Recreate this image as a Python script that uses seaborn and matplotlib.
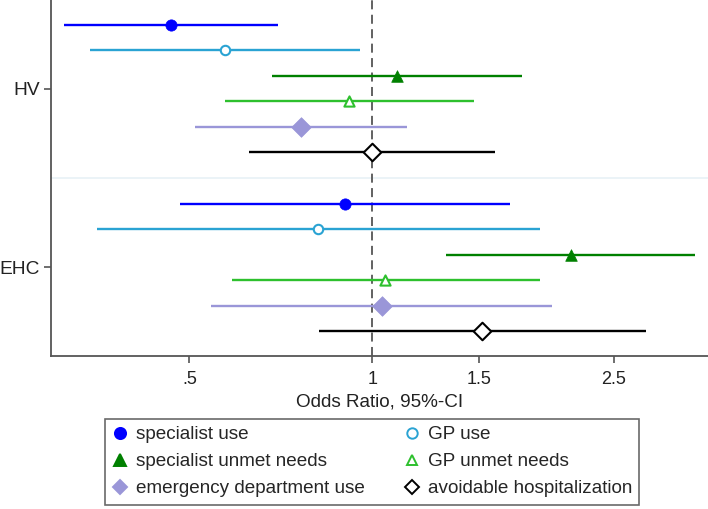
import numpy as np
import pandas as pd
import matplotlib
matplotlib.use("Agg")
import matplotlib.pyplot as plt
import seaborn as sns
from matplotlib.lines import Line2D

sns.set_style("white")
plt.rcParams["font.family"] = ["Liberation Sans", "DejaVu Sans"]

groups = ["HV", "EHC"]
outcomes = ["specialist use", "GP use", "specialist unmet needs",
            "GP unmet needs", "emergency department use", "avoidable hospitalization"]
or_hv = [0.467, 0.572, 1.097, 0.915, 0.762, 1.00]
lo_hv = [0.311, 0.343, 0.683, 0.572, 0.510, 0.626]
hi_hv = [0.700, 0.955, 1.761, 1.469, 1.141, 1.590]
or_ehc = [0.901, 0.814, 2.126, 1.051, 1.037, 1.518]
lo_ehc = [0.482, 0.352, 1.324, 0.587, 0.543, 0.817]
hi_ehc = [1.685, 1.886, 3.40, 1.886, 1.975, 2.823]
xticks = [0.5, 1, 1.5, 2.5]
xticklabels = [".5", "1", "1.5", "2.5"]

colors = ["#0000ff", "#2aa3d3", "#008000", "#2ec02e", "#9a96d8", "#000000"]
markers = ["o", "o", "^", "^", "D", "D"]
filled = [True, False, True, False, True, False]
sizes = [66, 46, 70, 54, 100, 80]

rows = []
for g, (ors, los, his) in enumerate([(or_hv, lo_hv, hi_hv), (or_ehc, lo_ehc, hi_ehc)]):
    for i, o in enumerate(outcomes):
        rows.append(dict(group=groups[g], outcome=o, OR=ors[i], lo=los[i], hi=his[i],
                         pos=1 + i + 7 * g))
df = pd.DataFrame(rows)

fig = plt.figure(figsize=(7.08, 5.09), dpi=100)
ax = fig.add_axes([51 / 708, 1 - 356 / 509, 1 - 51 / 708, 356 / 509])

ax.axvline(1, color="#555555", lw=1.3, ls=(0, (5, 3)), zorder=1)
ax.axhline(7, color="#e8f1f6", lw=1.2, zorder=0)

for i, o in enumerate(outcomes):
    sub = df[df.outcome == o]
    ax.hlines(sub.pos, sub.lo, sub.hi, colors=colors[i], lw=1.7, zorder=2)
    if filled[i]:
        sns.scatterplot(data=sub, x="OR", y="pos", ax=ax, marker=markers[i], s=sizes[i],
                        color=colors[i], edgecolor=colors[i], linewidth=0.5, zorder=3,
                        legend=False)
    else:
        sns.scatterplot(data=sub, x="OR", y="pos", ax=ax, marker=markers[i], s=sizes[i],
                        facecolor="white", edgecolor=colors[i], linewidth=1.5, zorder=3,
                        legend=False)

ax.set_xscale("log")
ax.set_xlim(0.296, 3.57)
ax.set_ylim(13.98, 0.02)
ax.set_xticks(xticks)
ax.set_xticklabels(xticklabels)
ax.xaxis.set_minor_locator(matplotlib.ticker.NullLocator())
ax.set_yticks([3.5, 10.5])
ax.set_yticklabels(groups)
ax.tick_params(axis="both", which="major", direction="out", length=5, width=1.2,
               color="#555555", labelcolor="#222222", bottom=True, left=True)
ax.tick_params(axis="y", labelsize=13.8, pad=3)
ax.tick_params(axis="x", labelsize=13, pad=6)
ax.set_xlabel("Odds Ratio, 95%-CI", fontsize=13.6, color="#222222", labelpad=3.5)
ax.set_ylabel("")
for s in ["top", "right"]:
    ax.spines[s].set_visible(False)
for s in ["left", "bottom"]:
    ax.spines[s].set_color("#555555")
    ax.spines[s].set_linewidth(1.3)

order = [0, 2, 4, 1, 3, 5]
leg_ms = [8, 7.5, 8, 7.5, 7.5, 7]
handles = []
for i in order:
    handles.append(Line2D([], [], ls="none", marker=markers[i],
                          markersize=leg_ms[i],
                          markerfacecolor=colors[i] if filled[i] else "white",
                          markeredgecolor=colors[i], markeredgewidth=1.4,
                          label=outcomes[i]))
leg = fig.legend(handles=handles, loc="upper left",
                 bbox_to_anchor=(105 / 708, 1 - 419 / 509),
                 ncol=2, fontsize=13.6, frameon=True, fancybox=False,
                 handlelength=0.8, handletextpad=0.45, borderaxespad=0,
                 labelspacing=0.52, borderpad=0.38, columnspacing=2.1)
leg.get_frame().set_edgecolor("#444444")
leg.get_frame().set_linewidth(1.2)

fig.savefig("out.png", dpi=100)
